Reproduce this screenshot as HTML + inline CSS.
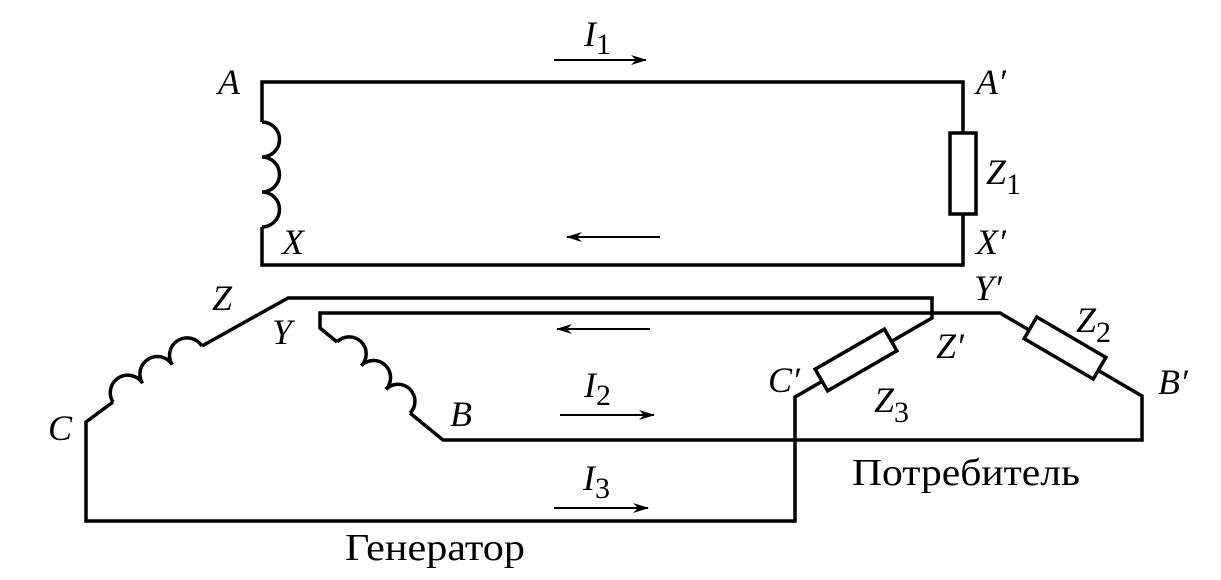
<!DOCTYPE html>
<html><head><meta charset="utf-8"><style>
html,body{margin:0;padding:0;background:#fff;}
svg{display:block;}
text{font-family:"Liberation Serif","Times New Roman",Times,serif;fill:#000;}
.i{font-style:italic;font-size:36px;}
.s{font-style:normal;font-size:30px;}
</style></head><body>
<svg width="1221" height="580" viewBox="0 0 1221 580" xmlns="http://www.w3.org/2000/svg" font-family="Liberation Serif, Times New Roman, serif">
<defs>
<marker id="ah" markerWidth="16" markerHeight="10" refX="15" refY="5" orient="auto" markerUnits="userSpaceOnUse">
<path d="M0,0 L16,5 L0,10 L5,5 Z" fill="#000"/>
</marker>
</defs>
<g fill="none" stroke="#000" stroke-width="3.5" stroke-linejoin="miter">
<path d="M262,122 L262,82 L963,82 L963,133"/>
<rect x="950" y="133" width="26" height="81"/>
<path d="M963,214 L963,265 L262,265 L262,227"/>
<g transform="translate(262,122) rotate(90)"><path d="M0,0 a17.5,17.5 0 0 1 35,0 a17.5,17.5 0 0 1 35,0 a17.5,17.5 0 0 1 35,0"/></g>
<path d="M202,346 L288,298 L932,298 L932,318 L795,397 L795,521 L86,521 L86,422 L113,402"/>
<g transform="translate(113,402) rotate(-32.2)"><path d="M0,0 a17.5,17.5 0 0 1 35,0 a17.5,17.5 0 0 1 35,0 a17.5,17.5 0 0 1 35,0"/></g>
<path d="M337,342 L320,328 L320,313 L1000,313 L1142,396 L1142,440 L443,440 L410,413"/>
<g transform="translate(337,342) rotate(44.2)"><path d="M0,0 a17,17 0 0 1 34,0 a17,17 0 0 1 34,0 a17,17 0 0 1 34,0"/></g>
<rect x="-40" y="-12.5" width="80" height="25" fill="#fff" transform="translate(856,360) rotate(-30)"/>
<rect x="-40" y="-12.5" width="80" height="25" fill="#fff" transform="translate(1065,348) rotate(30.3)"/>
</g>
<g stroke="#000" stroke-width="2" fill="none">
<line x1="554" y1="60" x2="646" y2="60" marker-end="url(#ah)"/>
<line x1="660" y1="237" x2="567" y2="237" marker-end="url(#ah)"/>
<line x1="650" y1="329" x2="557" y2="329" marker-end="url(#ah)"/>
<line x1="560" y1="415" x2="654" y2="415" marker-end="url(#ah)"/>
<line x1="554" y1="508" x2="648" y2="508" marker-end="url(#ah)"/>
</g>
<text class="i" x="218" y="94">A</text>
<text class="i" x="976" y="94">A′</text>
<text class="i" x="986" y="184">Z<tspan class="s" dy="10">1</tspan></text>
<text class="i" x="282" y="254">X</text>
<text class="i" x="976" y="254">X′</text>
<text class="i" x="584" y="46">I<tspan class="s" dy="8">1</tspan></text>
<text class="i" x="212" y="310">Z</text>
<text class="i" x="272" y="344">Y</text>
<text class="i" x="974" y="300">Y′</text>
<text class="i" x="936" y="358">Z′</text>
<text class="i" x="1076" y="332">Z<tspan class="s" dy="10">2</tspan></text>
<text class="i" x="1158" y="394">B′</text>
<text class="i" x="768" y="392">C′</text>
<text class="i" x="874" y="412">Z<tspan class="s" dy="10">3</tspan></text>
<text class="i" x="48" y="440">C</text>
<text class="i" x="450" y="426">B</text>
<text class="i" x="584" y="397">I<tspan class="s" dy="8">2</tspan></text>
<text class="i" x="583" y="490">I<tspan class="s" dy="8">3</tspan></text>
<text x="345" y="560" font-size="38" textLength="180" lengthAdjust="spacingAndGlyphs">Генератор</text>
<text x="852" y="485" font-size="38" textLength="228" lengthAdjust="spacingAndGlyphs">Потребитель</text>
</svg>
</body></html>
